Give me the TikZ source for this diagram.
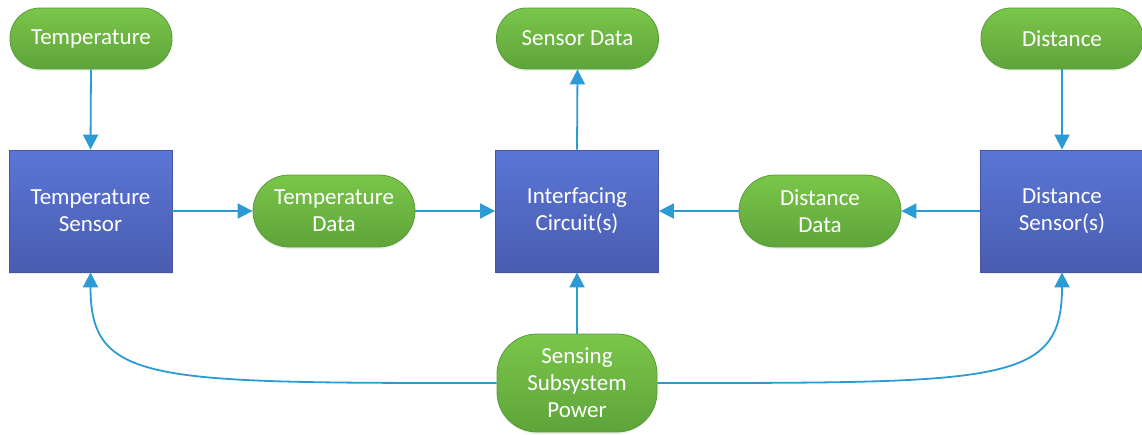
\documentclass[tikz,border=0pt]{standalone}
\usepackage{fontspec}
\setmainfont{Carlito}
\usetikzlibrary{arrows.meta,shadows}
\definecolor{gTop}{HTML}{7AC64A}
\definecolor{gBot}{HTML}{5EA43A}
\definecolor{gLine}{HTML}{5A9A3A}
\definecolor{bTop}{HTML}{5A76D6}
\definecolor{bBot}{HTML}{4A5CB0}
\definecolor{bLine}{HTML}{4455A8}
\definecolor{arr}{HTML}{2B9AD5}
\tikzset{
  lbl/.style={text=white, align=center, inner sep=0pt,
    font=\fontsize{23}{27}\selectfont},
  pill/.style={lbl, rectangle, draw=gLine, line width=0.8pt,
    top color=gTop, bottom color=gBot, minimum width=162pt,
    drop shadow={shadow xshift=0pt, shadow yshift=-2pt, opacity=0.12, fill=gLine}},
  blk/.style={lbl, rectangle, draw=bLine, line width=0.8pt,
    top color=bTop, bottom color=bBot, minimum width=163pt, minimum height=122pt,
    drop shadow={shadow xshift=0pt, shadow yshift=-2pt, opacity=0.12, fill=bLine}},
  conn/.style={draw=arr, line width=1.8pt, -{Triangle[width=15pt,length=15pt]}}
}
\begin{document}
\begin{tikzpicture}[x=1pt,y=-1pt]
\useasboundingbox (0,0) rectangle (1142,434);
% top pills
\node[pill, minimum height=61pt, rounded corners=30pt] (T) at (91,38.5) {Temperature};
\node[pill, minimum height=61pt, rounded corners=30pt] (SD) at (577.5,38.5) {Sensor Data};
\node[pill, minimum height=61pt, rounded corners=30pt] (D) at (1062,38.5) {Distance};
% middle row
\node[blk] (TS) at (90.5,211) {Temperature\\Sensor};
\node[pill, minimum height=72pt, rounded corners=36pt] (TD) at (334,211) {Temperature\\Data};
\node[blk] (IC) at (577,211) {Interfacing\\Circuit(s)};
\node[pill, minimum height=72pt, rounded corners=36pt] (DD) at (820,211) {Distance\\Data};
\node[blk] (DS) at (1062,211) {Distance\\Sensor(s)};
% power
\node[pill, minimum width=160pt, minimum height=98pt, rounded corners=40pt] (P) at (577,383) {Sensing\\Subsystem\\Power};
% connectors
\draw[conn] (T.south) -- (TS.north);
\draw[conn] (D.south) -- (DS.north);
\draw[conn] (TS.east) -- (TD.west);
\draw[conn] (TD.east) -- (IC.west);
\draw[conn] (DS.west) -- (DD.east);
\draw[conn] (DD.west) -- (IC.east);
\draw[conn] (IC.north) -- (SD.south);
\draw[conn] (P.north) -- (IC.south);
\draw[conn] (P.west) .. controls +(-347,0) and +(0,111) .. (TS.south);
\draw[conn] (P.east) .. controls +(347,0) and +(0,111) .. (DS.south);
\end{tikzpicture}
\end{document}
